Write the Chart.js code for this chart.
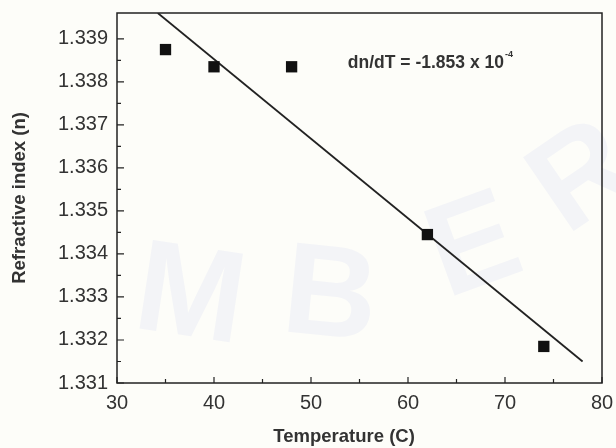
<!DOCTYPE html>
<html>
<head>
<meta charset="utf-8">
<script src="https://cdn.jsdelivr.net/npm/chart.js@4.4.1/dist/chart.umd.min.js"></script>
<style>
  html, body { margin: 0; padding: 0; background: #fdfdf9; }
  #wrap { width: 616px; height: 448px; }
</style>
</head>
<body>
<div id="wrap"><canvas id="c"></canvas></div>
<script>
// Meetpunten (temperatuur in C, brekingsindex n)
var tempC = [35, 40, 48, 62, 74];
var refIndex = [1.33875, 1.33835, 1.33835, 1.33445, 1.33185];
var fitX = [34.2, 78.0];
var fitY = [1.3396, 1.3315];
// As-labels
var xTicks = [30, 40, 50, 60, 70, 80];
var yTicks = [1.331, 1.332, 1.333, 1.334, 1.335, 1.336, 1.337, 1.338, 1.339];

var ink = "#222";
var txt = "#333";
var fam = "'Liberation Sans', Arial, sans-serif";

// Achtergrond met vaag watermerk
var bgPlugin = {
  id: "bg",
  beforeDraw: function (chart) {
    var ctx = chart.ctx;
    ctx.save();
    ctx.fillStyle = "#fdfdf9";
    ctx.fillRect(0, 0, chart.width, chart.height);
    ctx.fillStyle = "#f3f4f7";
    ctx.font = "bold 130px " + fam;
    ctx.textBaseline = "middle";
    ctx.textAlign = "center";
    [["M", 190, 300, 0.15], ["B", 330, 300, 0.1], ["E", 475, 250, -0.35], ["R", 585, 180, -0.6]].forEach(function (l) {
      ctx.save();
      ctx.translate(l[1], l[2]);
      ctx.rotate(l[3]);
      ctx.fillText(l[0], 0, 0);
      ctx.restore();
    });
    ctx.restore();
  }
};

// Frame + naar binnen gerichte tickjes, plus de dn/dT tekst.
var framePlugin = {
  id: "frame",
  afterDraw: function (chart) {
    var ctx = chart.ctx, a = chart.chartArea;
    var xs = chart.scales.x, ys = chart.scales.y;
    ctx.save();
    ctx.strokeStyle = ink;
    ctx.lineWidth = 1.5;
    ctx.strokeRect(a.left, a.top, a.right - a.left, a.bottom - a.top);
    ctx.lineWidth = 1.2;
    ctx.beginPath();
    yTicks.forEach(function (v, i) {
      var p = ys.getPixelForValue(v);
      ctx.moveTo(a.left, p); ctx.lineTo(a.left + 7, p);
      if (i < yTicks.length - 1) {
        var m = ys.getPixelForValue((v + yTicks[i + 1]) / 2);
        ctx.moveTo(a.left, m); ctx.lineTo(a.left + 4, m);
      }
    });
    xTicks.forEach(function (v, i) {
      var p = xs.getPixelForValue(v);
      ctx.moveTo(p, a.bottom); ctx.lineTo(p, a.bottom - 6);
      if (i < xTicks.length - 1) {
        var m = xs.getPixelForValue((v + xTicks[i + 1]) / 2);
        ctx.moveTo(m, a.bottom); ctx.lineTo(m, a.bottom - 4);
      }
    });
    ctx.stroke();

    // annotatie
    var tx = xs.getPixelForValue(53.8), ty = ys.getPixelForValue(1.33844);
    ctx.fillStyle = txt;
    ctx.textBaseline = "middle";
    ctx.font = "bold 17.5px " + fam;
    var s = "dn/dT = -1.853 x 10";
    ctx.fillText(s, tx, ty);
    var w = ctx.measureText(s).width;
    ctx.font = "bold 9px " + fam;
    ctx.fillText("-4", tx + w + 1, ty - 8);
    ctx.restore();
  }
};

new Chart(document.getElementById("c"), {
  type: "scatter",
  data: {
    datasets: [{
      label: "fit",
      type: "line",
      data: fitX.map(function (x, i) { return { x: x, y: fitY[i] }; }),
      borderColor: ink, borderWidth: 1.8, pointRadius: 0, fill: false,
      order: 2
    }, {
      label: "data",
      data: tempC.map(function (x, i) { return { x: x, y: refIndex[i] }; }),
      pointStyle: "rect", pointRadius: 8, borderWidth: 0,
      backgroundColor: "#111", borderColor: "#111",
      order: 1
    }]
  },
  options: {
    responsive: true, maintainAspectRatio: false, animation: false,
    layout: { padding: 0 },
    plugins: { legend: { display: false }, tooltip: { enabled: false } },
    scales: {
      x: {
        type: "linear", min: 30, max: 80,
        afterFit: function (s) { s.height = 65; s.paddingLeft = 0; s.paddingRight = 14; },
        afterBuildTicks: function (s) { s.ticks = xTicks.map(function (v) { return { value: v }; }); },
        grid: { display: false, drawTicks: false },
        border: { display: false },
        ticks: { color: txt, padding: 8, font: { family: fam, size: 20 } },
        // titel staat in het origineel iets links van het midden
        title: { display: true, text: "Temperature (C)\u00a0\u00a0\u00a0\u00a0\u00a0\u00a0", color: txt, padding: { top: 4, bottom: 0 },
          font: { family: fam, size: 18.5, weight: "bold" } }
      },
      y: {
        min: 1.331, max: 1.3396,
        afterFit: function (s) { s.width = 117; s.paddingTop = 13; s.paddingBottom = 0; },
        afterBuildTicks: function (s) { s.ticks = yTicks.map(function (v) { return { value: v }; }); },
        grid: { display: false, drawTicks: false },
        border: { display: false },
        ticks: { color: txt, padding: 9, callback: function (v) { return v.toFixed(3); },
          font: { family: fam, size: 20 } },
        title: { display: true, text: "Refractive index (n)", color: txt, padding: { top: 9, bottom: 0 },
          font: { family: fam, size: 18.5, weight: "bold" } }
      }
    }
  },
  plugins: [bgPlugin, framePlugin]
});
</script>
</body>
</html>
